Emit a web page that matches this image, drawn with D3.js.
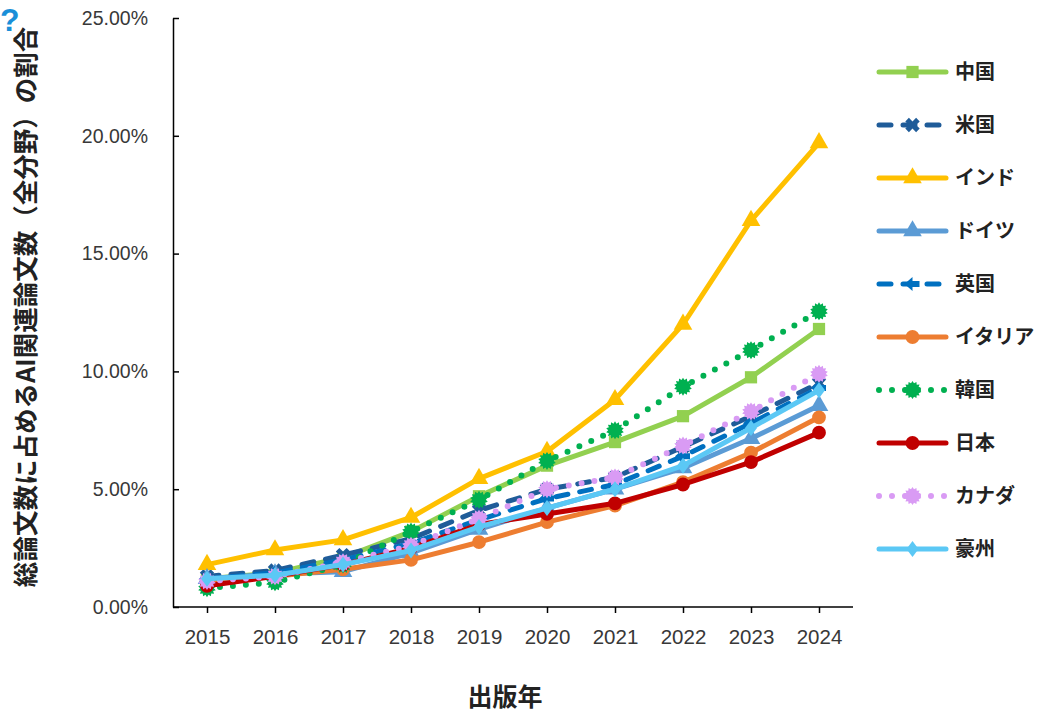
<!DOCTYPE html>
<html><head><meta charset="utf-8">
<script src="https://cdn.jsdelivr.net/npm/d3@7"></script>
<style>
html,body{margin:0;padding:0;background:#fff;}
svg{display:block;}
</style></head>
<body>
<svg id="chart" width="1048" height="715"></svg>
<script>
const years = [2015,2016,2017,2018,2019,2020,2021,2022,2023,2024];
const yTicks = [0,5,10,15,20,25];
const seriesNames = ["中国","米国","インド","ドイツ","英国","イタリア","韓国","日本","カナダ","豪州"];
const china     = [1.2, 1.45, 2.1, 3.2, 4.7, 6.0, 7.0, 8.1, 9.75, 11.8];
const usa       = [1.3, 1.55, 2.2, 2.9, 4.1, 5.0, 5.5, 6.8, 8.1, 9.5];
const india     = [1.8, 2.42, 2.85, 3.8, 5.45, 6.6, 8.8, 12.0, 16.4, 19.7];
const germany   = [1.2, 1.4, 1.5, 2.3, 3.3, 4.2, 5.0, 5.9, 7.15, 8.55];
const uk        = [1.2, 1.45, 2.0, 2.7, 3.7, 4.6, 5.2, 6.4, 7.8, 9.3];
const italy     = [1.0, 1.3, 1.6, 2.0, 2.75, 3.6, 4.3, 5.3, 6.55, 8.05];
const korea     = [0.8, 1.05, 1.8, 3.2, 4.55, 6.2, 7.5, 9.35, 10.9, 12.55];
const japan     = [0.9, 1.3, 1.8, 2.5, 3.5, 3.95, 4.4, 5.2, 6.15, 7.4];
const canada    = [1.1, 1.3, 1.9, 2.6, 3.75, 5.0, 5.5, 6.85, 8.3, 9.9];
const australia = [1.2, 1.35, 1.8, 2.4, 3.4, 4.2, 5.0, 6.0, 7.6, 9.2];
const seriesValues = [china, usa, india, germany, uk, italy, korea, japan, canada, australia];

const colors = ["#92D050","#1F5C99","#FFC000","#5B9BD5","#0070C0","#ED7D31","#00B050","#C00000","#D99BF4","#5BC8F5"];
const dashes = [null,"12,12",null,null,"12,12",null,"0,13",null,"0,13",null];
const markers = ["square","cross","triangle","triangle","arrow","circle","star","circle","star","diamond"];

const svg = d3.select("#chart");
const plot = {left:173, right:853, top:18, bottom:607};
const x = d3.scalePoint().domain(years).range([207,819]);
const y = d3.scaleLinear().domain([0,25]).range([plot.bottom, plot.top]);

const fontLatin = "'Liberation Sans', Arial, sans-serif";
const fontJP = "'Noto Sans CJK JP', 'Noto Sans', sans-serif";

// stray glyph top-left
svg.append("text").attr("x",0).attr("y",31).attr("fill","#1A8FD8")
  .attr("font-family",fontLatin).attr("font-weight","bold").attr("font-size",32).text("?");

// axes
const yAxis = d3.axisLeft(y).tickValues(yTicks).tickSizeInner(-6).tickSizeOuter(0).tickPadding(25)
  .tickFormat(d => d3.format(".2%")(d/100));
const gy = svg.append("g").attr("transform",`translate(${plot.left},0)`).call(yAxis);
gy.select(".domain").attr("stroke","#000").attr("stroke-width",1.5);
gy.selectAll(".tick line").attr("stroke","#000").attr("stroke-width",1.5);
gy.selectAll(".tick text").attr("font-family",fontLatin).attr("font-size",19.5).attr("fill","#383838");

const xAxis = d3.axisBottom(x).tickSizeInner(6).tickSizeOuter(0).tickPadding(16).tickFormat(d3.format("d"));
const gx = svg.append("g").attr("transform",`translate(0,${plot.bottom})`).call(xAxis);
gx.select(".domain").attr("d",`M${plot.left},0H${plot.right}`).attr("stroke","#000").attr("stroke-width",1.5);
gx.selectAll(".tick line").attr("stroke","#000").attr("stroke-width",1.5);
gx.selectAll(".tick text").attr("font-family",fontLatin).attr("font-size",20.5).attr("fill","#383838");

// axis titles
svg.append("text").attr("x",505).attr("y",706).attr("text-anchor","middle")
  .attr("font-family",fontJP).attr("font-weight","bold").attr("font-size",25).attr("fill","#222")
  .text("出版年");
svg.append("text").attr("transform","translate(35,307) rotate(-90)").attr("text-anchor","middle")
  .attr("font-family",fontJP).attr("font-weight","bold").attr("font-size",25.5).attr("fill","#222")
  .text("総論文数に占めるAI関連論文数（全分野）の割合");

// marker generator
function starPath(rOut, rIn, n){
  let p=[];
  for(let i=0;i<2*n;i++){
    const r = i%2===0 ? rOut : rIn;
    const a = Math.PI*i/n;
    p.push([r*Math.sin(a), -r*Math.cos(a)]);
  }
  return "M"+p.map(q=>q[0].toFixed(2)+","+q[1].toFixed(2)).join("L")+"Z";
}
function markerPath(type){
  switch(type){
    case "square": return d3.symbol(d3.symbolSquare,150)();
    case "triangle": return d3.symbol(d3.symbolTriangle,150)();
    case "circle": return d3.symbol(d3.symbolCircle,150)();
    case "diamond": return "M0,-8L6,0L0,8L-6,0Z";
    case "cross": return d3.symbol(d3.symbolCross,130)();
    case "arrow": return "M-8,0L0,-7L0,-3L7,-3L7,3L0,3L0,7Z";
    case "star": return starPath(9,6.8,14);
  }
}
function markerTransform(type){
  return type==="cross" ? " rotate(45)" : "";
}

const line = d3.line().x((d,i)=>x(years[i])).y(d=>y(d));

seriesValues.forEach((vals, si) => {
  const g = svg.append("g");
  const dotted = dashes[si]==="0,13";
  g.append("path").attr("d", line(vals)).attr("fill","none")
    .attr("stroke", colors[si]).attr("stroke-width", dotted ? 6 : 5)
    .attr("stroke-linejoin","round").attr("stroke-linecap","round")
    .attr("stroke-dasharray", dashes[si]);
  g.selectAll("path.m").data(vals).join("path").attr("class","m")
    .attr("d", markerPath(markers[si]))
    .attr("transform",(d,i)=>`translate(${x(years[i])},${y(d)})${markerTransform(markers[si])}`)
    .attr("fill", colors[si]);
});

// legend
const legend = svg.append("g");
seriesNames.forEach((name, si) => {
  const ly = 72 + si*53;
  const g = legend.append("g").attr("transform",`translate(0,${ly})`);
  const dotted = dashes[si]==="0,13";
  g.append("line").attr("x1",879).attr("x2",946).attr("y1",0).attr("y2",0)
    .attr("stroke",colors[si]).attr("stroke-width", dotted?6:5)
    .attr("stroke-linecap","round").attr("stroke-dasharray",dashes[si]);
  g.append("path").attr("d",markerPath(markers[si]))
    .attr("transform",`translate(912.5,0)${markerTransform(markers[si])}`).attr("fill",colors[si]);
  g.append("text").attr("x",955).attr("y",0).attr("dy","0.36em")
    .attr("font-family",fontJP).attr("font-weight","bold").attr("font-size",20).attr("fill","#222")
    .text(name);
});
</script>
</body></html>
